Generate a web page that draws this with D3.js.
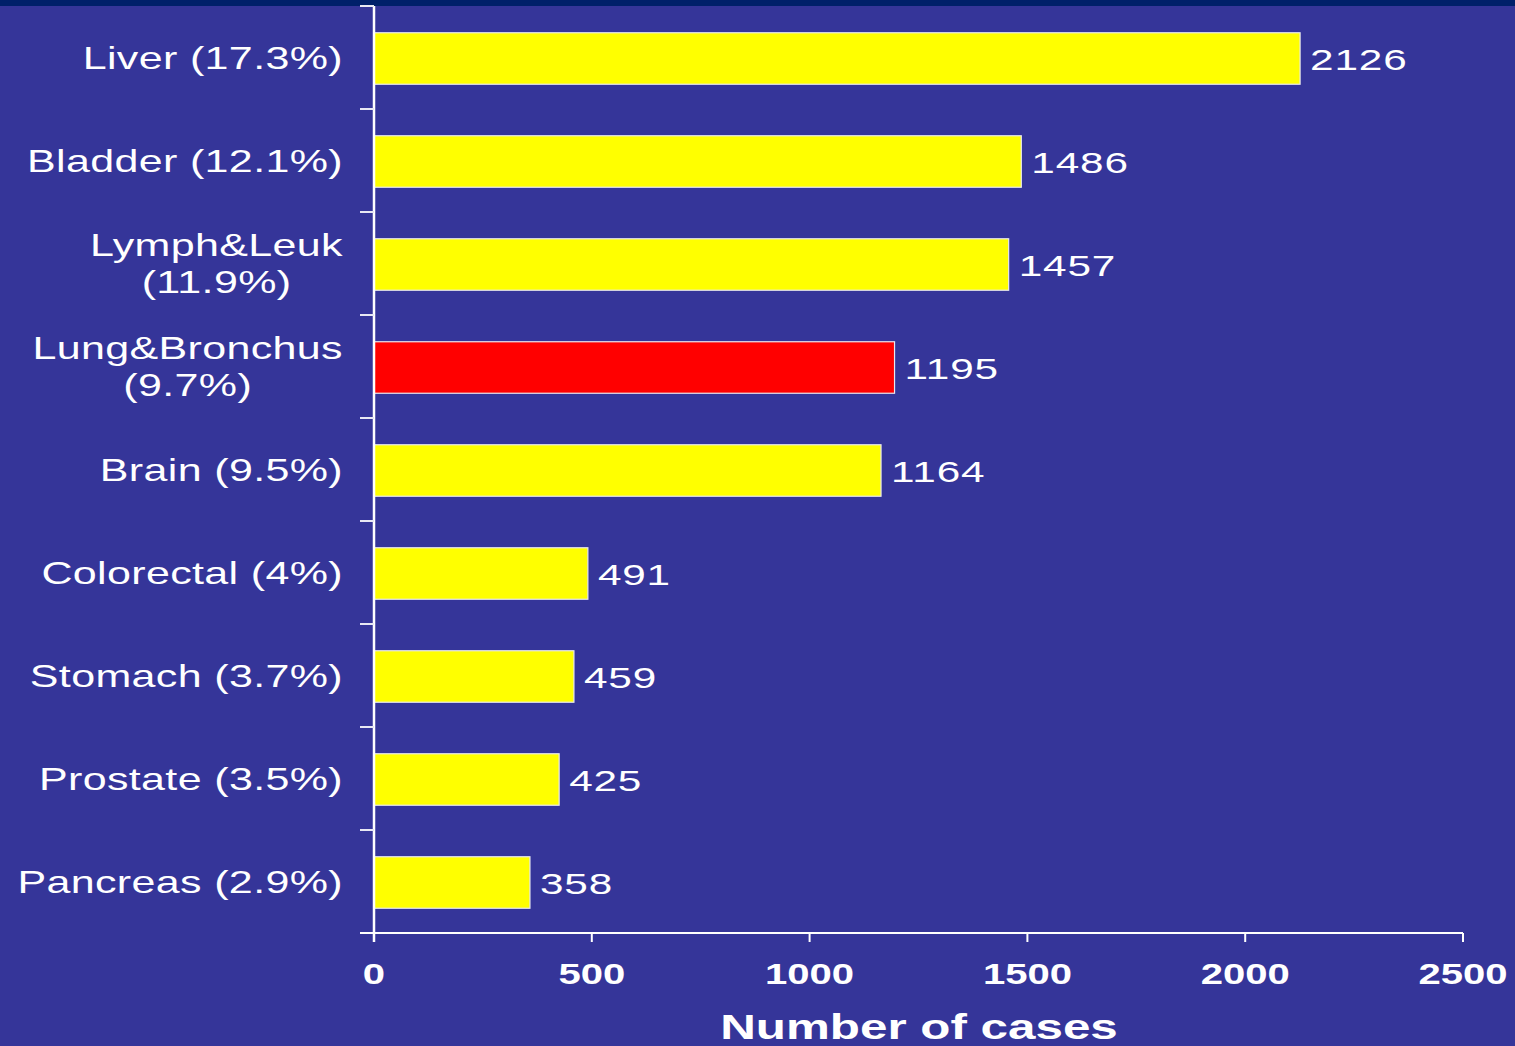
<!DOCTYPE html>
<html>
<head>
<meta charset="utf-8">
<script src="https://cdn.jsdelivr.net/npm/d3@7"></script>
<style>
  html, body { margin: 0; padding: 0; background: #353599; overflow: hidden; }
  text { font-family: "Liberation Sans", Arial, sans-serif; fill: #fff; }
</style>
</head>
<body>
<svg id="chart"></svg>
<script>
// data
var categories = [["Liver (17.3%)"], ["Bladder (12.1%)"], ["Lymph&Leuk", "(11.9%)"],
  ["Lung&Bronchus", "(9.7%)"], ["Brain (9.5%)"], ["Colorectal (4%)"],
  ["Stomach (3.7%)"], ["Prostate (3.5%)"], ["Pancreas (2.9%)"]];
var cases = [2126, 1486, 1457, 1195, 1164, 491, 459, 425, 358];
var highlight = [false, false, false, true, false, false, false, false, false];
var xTicks = [0, 500, 1000, 1500, 2000, 2500];
var xTitle = "Number of cases";

var W = 1515, H = 1046;
var margin = {top: 6, right: 52, bottom: 113, left: 374};
var width = W - margin.left - margin.right,
    height = H - margin.top - margin.bottom;
var sx = 1.41;   // the original text is stretched wide

var svg = d3.select("#chart").attr("width", W).attr("height", H);

svg.append("rect").attr("width", W).attr("height", H).attr("fill", "#353599");
svg.append("rect").attr("width", W).attr("height", 6).attr("fill", "#00206a");

var g = svg.append("g").attr("transform", "translate(" + margin.left + "," + margin.top + ")");

var idx = d3.range(cases.length);
var x = d3.scaleLinear().domain([0, 2500]).range([0, width]);
var y = d3.scaleBand().domain(idx).range([0, height]).paddingInner(0.5).paddingOuter(0.25);
var yb = d3.scaleBand().domain(idx).range([0, height]);

// bars
g.selectAll(".bar")
  .data(idx)
  .enter().append("rect")
    .attr("x", 0)
    .attr("y", function(i) { return y(i) + 1; })
    .attr("width", function(i) { return x(cases[i]); })
    .attr("height", y.bandwidth())
    .attr("fill", function(i) { return highlight[i] ? "#ff0000" : "#ffff00"; })
    .attr("stroke", "#e8e8f0")
    .attr("stroke-width", 1.2);

// value labels
g.selectAll(".val")
  .data(idx)
  .enter().append("text")
    .attr("transform", function(i) {
      return "translate(" + (x(cases[i]) + 10) + "," + (yb(i) + yb.bandwidth() / 2 + 12.5) + ") scale(" + sx + ",1)";
    })
    .style("font-size", "30px")
    .style("letter-spacing", "0.6px")
    .text(function(i) { return cases[i]; });

// y axis: line + boundary ticks
g.append("line").attr("x1", 0).attr("x2", 0).attr("y1", 0).attr("y2", height + 9)
  .attr("stroke", "#fff").attr("stroke-width", 2.5);
var bounds = idx.map(function(i) { return yb(i); }).concat([height]);
g.selectAll(".ytick")
  .data(bounds)
  .enter().append("line")
    .attr("x1", -14).attr("x2", 0)
    .attr("y1", function(d) { return d; }).attr("y2", function(d) { return d; })
    .attr("stroke", "#e8e8f4").attr("stroke-width", 2);

// category labels
var labels = g.selectAll(".cat")
  .data(idx)
  .enter().append("text")
    .style("font-size", "30.5px")
    .style("letter-spacing", "0.25px")
    .attr("text-anchor", "middle");
labels.each(function(i) {
  var t = d3.select(this), lines = categories[i];
  lines.forEach(function(s, k) { t.append("tspan").attr("x", 0).attr("dy", k ? 38 : 0).text(s); });
  var w = d3.max(t.selectAll("tspan").nodes(), function(n) { return n.getComputedTextLength(); }) * sx;
  var cy = yb(i) + yb.bandwidth() / 2 + 11 - (lines.length - 1) * 19;
  t.attr("transform", "translate(" + (-31 - w / 2) + "," + cy + ") scale(" + sx + ",1)");
});

// x axis
var gx = g.append("g").attr("transform", "translate(0," + height + ")");
gx.append("line").attr("x1", -14).attr("x2", width).attr("stroke", "#fff").attr("stroke-width", 2);
gx.selectAll(".xtick")
  .data(xTicks)
  .enter().append("line")
    .attr("x1", function(d) { return x(d); }).attr("x2", function(d) { return x(d); })
    .attr("y1", 0).attr("y2", 9)
    .attr("stroke", "#fff").attr("stroke-width", 2);
gx.selectAll(".xlab")
  .data(xTicks)
  .enter().append("text")
    .attr("text-anchor", "middle")
    .attr("transform", function(d) { return "translate(" + x(d) + ",51) scale(1.38,1)"; })
    .style("font-size", "29px").style("font-weight", "bold")
    .text(function(d) { return d; });

g.append("text")
  .attr("text-anchor", "middle")
  .attr("transform", "translate(" + 545 + "," + (height + 106) + ") scale(1.41,1)")
  .style("font-size", "35px").style("font-weight", "bold")
  .text(xTitle);
</script>
</body>
</html>
